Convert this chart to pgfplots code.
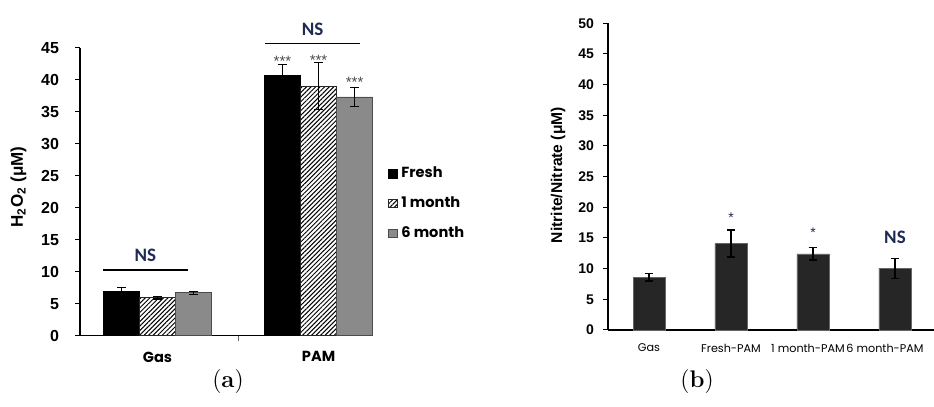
\documentclass[border=0pt]{standalone}
\usepackage{pgfplots}
\pgfplotsset{compat=1.18}
\usetikzlibrary{patterns.meta}
\usepackage{fontspec}
\newfontfamily\arialf{Liberation Sans}
\newfontfamily\gothic{Poppins}
\newfontfamily\calib{Carlito}
\definecolor{navy}{HTML}{1F2A55}
\definecolor{barb}{HTML}{262626}
\definecolor{grayb}{HTML}{8A8A8A}
\begin{document}
\begin{tikzpicture}
\useasboundingbox (0,0) rectangle (467pt,203.5pt);
% ---------------- panel (a)
\begin{axis}[
  at={(40pt,35.7pt)}, anchor=south west,
  scale only axis, width=146.5pt, height=143.95pt,
  xmin=-0.481, xmax=1.338, ymin=0, ymax=45,
  axis lines*=left, axis line style={line width=0.9pt},
  ybar=0pt, bar width=18pt,
  ytick={0,5,...,45}, tick align=outside, major tick length=2.5pt,
  ytick style={black, line width=0.5pt},
  xtick={0,1}, xticklabels={Gas,PAM},
  xtick style={draw=none},
  extra x ticks={0.5}, extra x tick labels={},
  extra x tick style={xtick style={draw=black!60, line width=0.5pt}},
  /pgf/number format/assume math mode=true,
  y tick label style={font=\arialf\bfseries\fontsize{8}{9}\selectfont, xshift=-4.5pt},
  x tick label style={font=\gothic\bfseries\fontsize{7.3}{9}\selectfont, yshift=-2pt},
  every axis y label/.style={at={(rel axis cs:-0.21,0.516)}, rotate=90, anchor=center, font=\arialf\bfseries\fontsize{8.5}{9}\selectfont},
  ylabel={H\textsubscript{2}O\textsubscript{2} (μM)},
  clip=false,
  legend style={at={(rel axis cs:1.03,0.615)}, anchor=north west, draw=none, fill=none,
    font=\gothic\bfseries\fontsize{7.3}{9}\selectfont, row sep=4pt},
  legend cell align=left,
  legend image code/.code={\draw[#1, line width=0.4pt] (0.3pt,-2.1pt) rectangle (4.5pt,2.1pt);},
  error bars/y dir=both, error bars/y explicit,
  error bars/error bar style={black, line width=0.6pt},
  error bars/error mark options={rotate=90, black, mark size=2.2pt, line width=0.6pt},
]
\addplot[fill=black, draw=black] coordinates {(0,6.97) +- (0,0.6) (1,40.6) +- (0,1.8)};
\addplot[draw=black!85, fill=white, postaction={pattern={Lines[angle=45,distance=1.6pt,line width=0.5pt]}}] coordinates {(0,5.92) +- (0,0.2) (1,39.0) +- (0,3.7)};
\addplot[fill=grayb, draw=black!70] coordinates {(0,6.7) +- (0,0.25) (1,37.3) +- (0,1.45)};
\legend{Fresh, 1 month, 6 month}
% annotations
\draw[black, line width=0.6pt] (axis cs:-0.339,10.25) -- (axis cs:0.189,10.25);
\node[font=\calib\bfseries\fontsize{9.5}{10}\selectfont, text=navy, anchor=south] at (axis cs:-0.075,10.4) {NS};
\draw[black, line width=0.6pt] (axis cs:0.668,45.6) -- (axis cs:1.258,45.6);
\node[font=\calib\bfseries\fontsize{9.5}{10}\selectfont, text=navy, anchor=south] at (axis cs:0.963,45.8) {NS};
\node[font=\arialf\fontsize{7.5}{7.5}\selectfont, text=black!70] at (axis cs:0.776,42.9) {***};
\node[font=\arialf\fontsize{7.5}{7.5}\selectfont, text=black!70] at (axis cs:1.0,43.0) {***};
\node[font=\arialf\fontsize{7.5}{7.5}\selectfont, text=black!70] at (axis cs:1.224,39.6) {***};
\end{axis}
% ---------------- panel (b)
\begin{axis}[
  at={(304pt,38.5pt)}, anchor=south west,
  scale only axis, width=164pt, height=153.35pt,
  xmin=-0.5, xmax=3.5, ymin=0, ymax=50,
  axis lines*=left, axis line style={line width=0.9pt},
  ybar=0pt, bar width=16pt,
  ytick={0,5,...,50}, tick align=outside, major tick length=2.5pt,
  ytick style={black, line width=0.5pt},
  xtick={0,1,2,3}, xticklabels={Gas,Fresh-PAM,1 month-PAM\hspace*{5pt},6 month-PAM\hspace*{10pt}},
  xtick style={draw=none},
  /pgf/number format/assume math mode=true,
  y tick label style={font=\arialf\bfseries\fontsize{7}{8}\selectfont, xshift=-1pt},
  x tick label style={font=\gothic\fontsize{5.6}{7}\selectfont, yshift=-1pt},
  every axis y label/.style={at={(rel axis cs:-0.152,0.505)}, rotate=90, anchor=center, font=\arialf\bfseries\fontsize{7.8}{8}\selectfont},
  ylabel={Nitrite/Nitrate (μM)},
  clip=false,
  error bars/y dir=both, error bars/y explicit,
  error bars/error bar style={black, line width=0.6pt},
  error bars/error mark options={rotate=90, black, mark size=2.2pt, line width=0.6pt},
]
\addplot[fill=barb, draw=black!60] coordinates {(0,8.6) +- (0,0.6) (1,14.1) +- (0,2.2) (2,12.4) +- (0,1.0) (3,10.07) +- (0,1.65)};
\node[font=\arialf\fontsize{7}{7}\selectfont, text=navy] at (axis cs:1,18.3) {*};
\node[font=\arialf\fontsize{7}{7}\selectfont, text=navy] at (axis cs:2,15.8) {*};
\node[font=\calib\bfseries\fontsize{9.5}{10}\selectfont, text=navy] at (axis cs:3,15.1) {NS};
\end{axis}
% captions
\node[font=\fontsize{12}{13}\selectfont] at (114pt,12.5pt) {(\textbf{a})};
\node[font=\fontsize{12}{13}\selectfont] at (348.5pt,12.5pt) {(\textbf{b})};
\end{tikzpicture}
\end{document}
